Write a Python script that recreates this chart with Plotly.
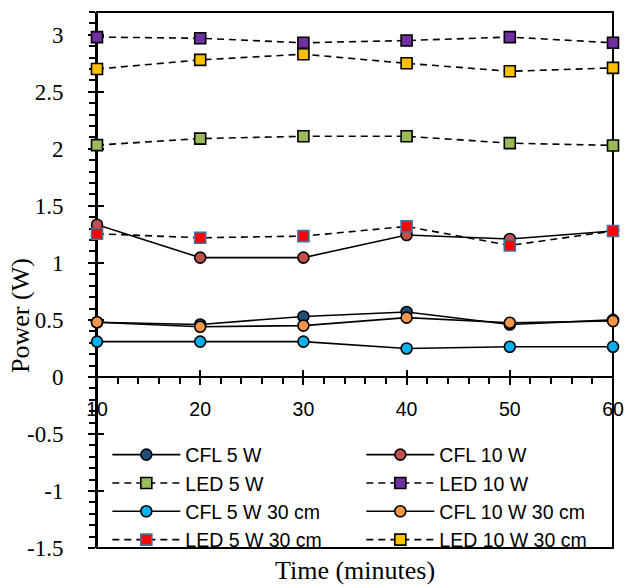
import plotly.graph_objects as go

time_min = [10, 20, 30, 40, 50, 60]
cfl_5w = [0.48, 0.46, 0.53, 0.57, 0.46, 0.50]
cfl_10w = [1.335, 1.046, 1.046, 1.244, 1.21, 1.28]
led_5w = [2.033, 2.09, 2.11, 2.11, 2.05, 2.03]
led_10w = [2.98, 2.97, 2.93, 2.95, 2.98, 2.93]
cfl_5w_30 = [0.31, 0.31, 0.31, 0.25, 0.265, 0.265]
cfl_10w_30 = [0.48, 0.44, 0.45, 0.52, 0.475, 0.49]
led_5w_30 = [1.256, 1.22, 1.235, 1.32, 1.153, 1.28]
led_10w_30 = [2.70, 2.78, 2.83, 2.75, 2.68, 2.71]

y_tick_vals = [-1.5, -1, -0.5, 0, 0.5, 1, 1.5, 2, 2.5, 3]
y_tick_text = ["-1.5", "-1", "-0.5", "0", "0.5", "1", "1.5", "2", "2.5", "3"]
x_tick_text = ["10", "20", "30", "40", "50", "60"]

names = ["CFL 5 W", "CFL 10 W", "LED 5 W", "LED 10 W",
         "CFL 5 W 30 cm", "CFL 10 W 30 cm", "LED 5 W 30 cm", "LED 10 W 30 cm"]
series = [cfl_5w, cfl_10w, led_5w, led_10w, cfl_5w_30, cfl_10w_30, led_5w_30, led_10w_30]
fills = ["#1F4E79", "#C0504D", "#9BBB59", "#7030A0", "#00B0F0", "#F79646", "#FF0000", "#FFC000"]
edges = ["#000000", "#000000", "#000000", "#000000", "#000000", "#000000", "#41719C", "#000000"]
symbols = ["circle", "circle", "square", "square", "circle", "circle", "square", "square"]
dashes = ["solid", "solid", "7px,5px", "7px,5px", "solid", "solid", "7px,5px", "7px,5px"]

y_range = [-1.5, 3.2]
x_range = [10, 60]

fig = go.Figure()
for n, s, fc, ec, sym, d in zip(names, series, fills, edges, symbols, dashes):
    fig.add_trace(go.Scatter(
        x=time_min, y=s, name=n, mode="lines+markers",
        line=dict(color="black", width=1.6, dash=d),
        marker=dict(symbol=sym, size=11, color=fc, line=dict(color=ec, width=1.6)),
        cliponaxis=False,
    ))

# invisible trace on overlay axes, only to draw the inner half of crossing ticks
fig.add_trace(go.Scatter(x=[], y=[], xaxis="x2", yaxis="y2", showlegend=False, hoverinfo="skip"))

x_pos = (0 - y_range[0]) / (y_range[1] - y_range[0])

serif = "Liberation Serif"
sans = "Liberation Sans"

fig.update_layout(
    width=626, height=587,
    margin=dict(l=97, r=13, t=12, b=39, autoexpand=False),
    paper_bgcolor="white", plot_bgcolor="white",
    showlegend=True,
    xaxis=dict(range=x_range, anchor="free", position=x_pos,
               showgrid=False, zeroline=False,
               showline=True, linecolor="black", linewidth=2,
               ticks="outside", ticklen=7, tickwidth=2, tickcolor="black",
               tickmode="array", tickvals=time_min, ticktext=x_tick_text,
               minor=dict(tickmode="linear", dtick=2, tick0=0, ticks="outside",
                          ticklen=6, tickwidth=1.5, tickcolor="black"),
               tickfont=dict(family=sans, size=19.5, color="black"),
               ticklabelstandoff=8),
    xaxis2=dict(range=x_range, overlaying="x", anchor="free", position=x_pos,
                showgrid=False, zeroline=False, showline=False,
                ticks="inside", ticklen=7, tickwidth=2, tickcolor="black",
                tickmode="array", tickvals=time_min, showticklabels=False),
    yaxis=dict(range=y_range, showgrid=False, zeroline=False,
               showline=True, linecolor="black", linewidth=2,
               ticks="outside", ticklen=7, tickwidth=2, tickcolor="black",
               tickmode="array", tickvals=y_tick_vals, ticktext=y_tick_text,
               minor=dict(tickmode="linear", dtick=0.1, tick0=0, ticks="outside",
                          ticklen=6, tickwidth=1.5, tickcolor="black"),
               tickfont=dict(family=serif, size=23, color="black"),
               ticklabelstandoff=20, layer="below traces"),
    yaxis2=dict(range=y_range, overlaying="y", anchor="x",
                showgrid=False, zeroline=False, showline=False,
                ticks="inside", ticklen=7, tickwidth=2, tickcolor="black",
                tickmode="array", tickvals=y_tick_vals, showticklabels=False,
                layer="below traces"),
    legend=dict(orientation="h", x=0.02, xanchor="left", y=0.21, yanchor="top",
                bgcolor="rgba(0,0,0,0)", borderwidth=0,
                entrywidth=171, entrywidthmode="pixels", itemwidth=68,
                font=dict(family=sans, size=19.5, color="black"),
                tracegroupgap=0),
    shapes=[dict(type="rect", xref="paper", yref="paper", x0=0, x1=1, y0=0, y1=1,
                 line=dict(color="black", width=2), layer="below")],
    annotations=[
        dict(text="Time (minutes)", xref="paper", yref="paper", x=0.5, y=0,
             xanchor="center", yanchor="top", yshift=-6, showarrow=False,
             font=dict(family=serif, size=26, color="black")),
        dict(text="Power (W)", xref="paper", yref="paper", x=0, y=0.433,
             xanchor="center", yanchor="middle", xshift=-76, textangle=-90,
             showarrow=False, font=dict(family=serif, size=26, color="black")),
    ],
)

fig.write_html("out.html")
